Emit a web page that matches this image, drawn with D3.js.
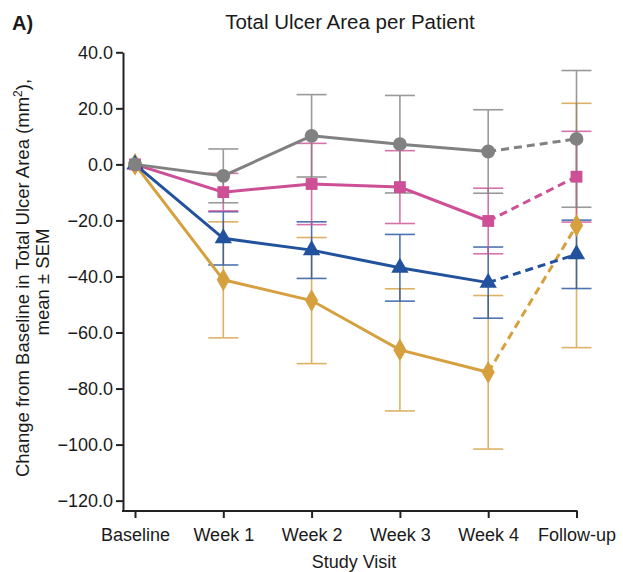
<!DOCTYPE html>
<html>
<head>
<meta charset="utf-8">
<script src="https://cdn.jsdelivr.net/npm/d3@7"></script>
<style>
  html, body { margin: 0; padding: 0; background: #fff; }
  text { font-family: "Liberation Sans", Arial, Helvetica, sans-serif; fill: #1a1a1a; }
</style>
</head>
<body>
<svg id="chart" width="623" height="572"></svg>
<script>
// Study visits along the x axis
const visits = ["Baseline", "Week 1", "Week 2", "Week 3", "Week 4", "Follow-up"];
const yTicks = [40, 20, 0, -20, -40, -60, -80, -100, -120];

// Mean change from baseline (mm²) per group
const grayMean = [0, -4.1, 10.2, 7.2, 4.6, 9.1];
const graySem  = [0, 9.6, 14.7, 17.4, 14.9, 24.4];
const pinkMean = [0, -9.9, -7.0, -8.1, -20.2, -4.4];
const pinkSem  = [0, 6.7, 14.5, 13.0, 11.7, 16.2];
const blueMean = [0, -26.4, -30.6, -36.9, -42.2, -32.1];
const blueSem  = [0, 9.5, 10.1, 11.9, 12.7, 12.2];
const goldMean = [0, -41.2, -48.6, -66.2, -74.2, -21.8];
const goldSem  = [0, 20.7, 22.5, 21.8, 27.4, 43.6];

const series = [
  { mean: goldMean, sem: goldSem, color: "#d6a03f", symbol: d3.symbolDiamond, size: 150 },
  { mean: blueMean, sem: blueSem, color: "#22529d", symbol: d3.symbolTriangle, size: 130 },
  { mean: pinkMean, sem: pinkSem, color: "#cd5096", symbol: d3.symbolSquare, size: 140 },
  { mean: grayMean, sem: graySem, color: "#818181", symbol: d3.symbolCircle, size: 150 }
];

const svg = d3.select("#chart");
const axisX = 123, axisBottom = 511;
const fontFamily = "Liberation Sans, Arial, sans-serif";

const x = d3.scalePoint().domain(visits).range([135, 576.5]);
const y = d3.scaleLinear().domain([-123.7, 40]).range([axisBottom, 52.3]);

// Y axis
const yAxis = svg.append("g")
  .attr("transform", `translate(${axisX},0)`)
  .call(d3.axisLeft(y).tickValues(yTicks).tickFormat(d3.format(".1f")).tickSize(7).tickSizeOuter(0).tickPadding(3));
yAxis.select(".domain").attr("stroke", "#222").attr("stroke-width", 2);
yAxis.selectAll(".tick line").attr("stroke", "#222").attr("stroke-width", 2);
yAxis.selectAll(".tick text").style("font-size", "18px").style("font-family", fontFamily).attr("fill", "#1a1a1a");

// X axis
const xAxis = svg.append("g")
  .attr("transform", `translate(0,${axisBottom})`)
  .call(d3.axisBottom(x).tickSize(7).tickSizeOuter(0).tickPadding(10));
xAxis.select(".domain").remove();
xAxis.append("line")
  .attr("x1", axisX - 1).attr("x2", x(visits[visits.length - 1]) + 1)
  .attr("y1", 0).attr("y2", 0)
  .attr("stroke", "#222").attr("stroke-width", 2);
xAxis.selectAll(".tick line").attr("stroke", "#222").attr("stroke-width", 2);
xAxis.selectAll(".tick text").style("font-size", "18px").style("font-family", fontFamily).attr("fill", "#1a1a1a");

// Error bars (mean ± SEM)
const capHalf = 15;
series.forEach(s => {
  const g = svg.append("g").attr("stroke", s.color).attr("stroke-width", 1.6).attr("opacity", 0.8);
  visits.forEach((v, i) => {
    if (s.sem[i] === 0) return;
    const cx = x(v), top = y(s.mean[i] + s.sem[i]), bot = y(s.mean[i] - s.sem[i]);
    g.append("line").attr("x1", cx).attr("x2", cx).attr("y1", top).attr("y2", bot);
    g.append("line").attr("x1", cx - capHalf).attr("x2", cx + capHalf).attr("y1", top).attr("y2", top);
    g.append("line").attr("x1", cx - capHalf).attr("x2", cx + capHalf).attr("y1", bot).attr("y2", bot);
  });
});

// Lines: solid through Week 4, dashed to follow-up
const line = d3.line().x(d => x(d.v)).y(d => y(d.m));
series.forEach(s => {
  const pts = visits.map((v, i) => ({ v, m: s.mean[i] }));
  svg.append("path").datum(pts.slice(0, 5)).attr("d", line)
    .attr("fill", "none").attr("stroke", s.color).attr("stroke-width", 3);
  svg.append("path").datum(pts.slice(4)).attr("d", line)
    .attr("fill", "none").attr("stroke", s.color).attr("stroke-width", 3)
    .attr("stroke-dasharray", "8,5");
});

// Markers
series.forEach(s => {
  svg.append("g").selectAll("path")
    .data(visits.map((v, i) => ({ v, m: s.mean[i] })))
    .join("path")
    .attr("d", d3.symbol().type(s.symbol).size(s.size))
    .attr("transform", d => `translate(${x(d.v)},${y(d.m)})`)
    .attr("fill", s.color);
});

// Titles
svg.append("text").attr("x", 12).attr("y", 30)
  .style("font-size", "20px").style("font-weight", "bold").text("A)");
svg.append("text").attr("x", 350).attr("y", 29).attr("text-anchor", "middle")
  .style("font-size", "20.5px").text("Total Ulcer Area per Patient");
svg.append("text").attr("x", 354).attr("y", 568).attr("text-anchor", "middle")
  .style("font-size", "18px").text("Study Visit");

const yl = svg.append("text").attr("transform", "translate(29,278) rotate(-90)")
  .attr("text-anchor", "middle").style("font-size", "18.5px");
yl.append("tspan").attr("x", 0).attr("dy", 0).text("Change from Baseline in Total Ulcer Area (mm");
yl.append("tspan").attr("dy", -7).style("font-size", "12px").text("2");
yl.append("tspan").attr("dy", 7).text("),");
svg.append("text").attr("transform", "translate(49,282) rotate(-90)")
  .attr("text-anchor", "middle").style("font-size", "18.5px").text("mean ± SEM");
</script>
</body>
</html>
